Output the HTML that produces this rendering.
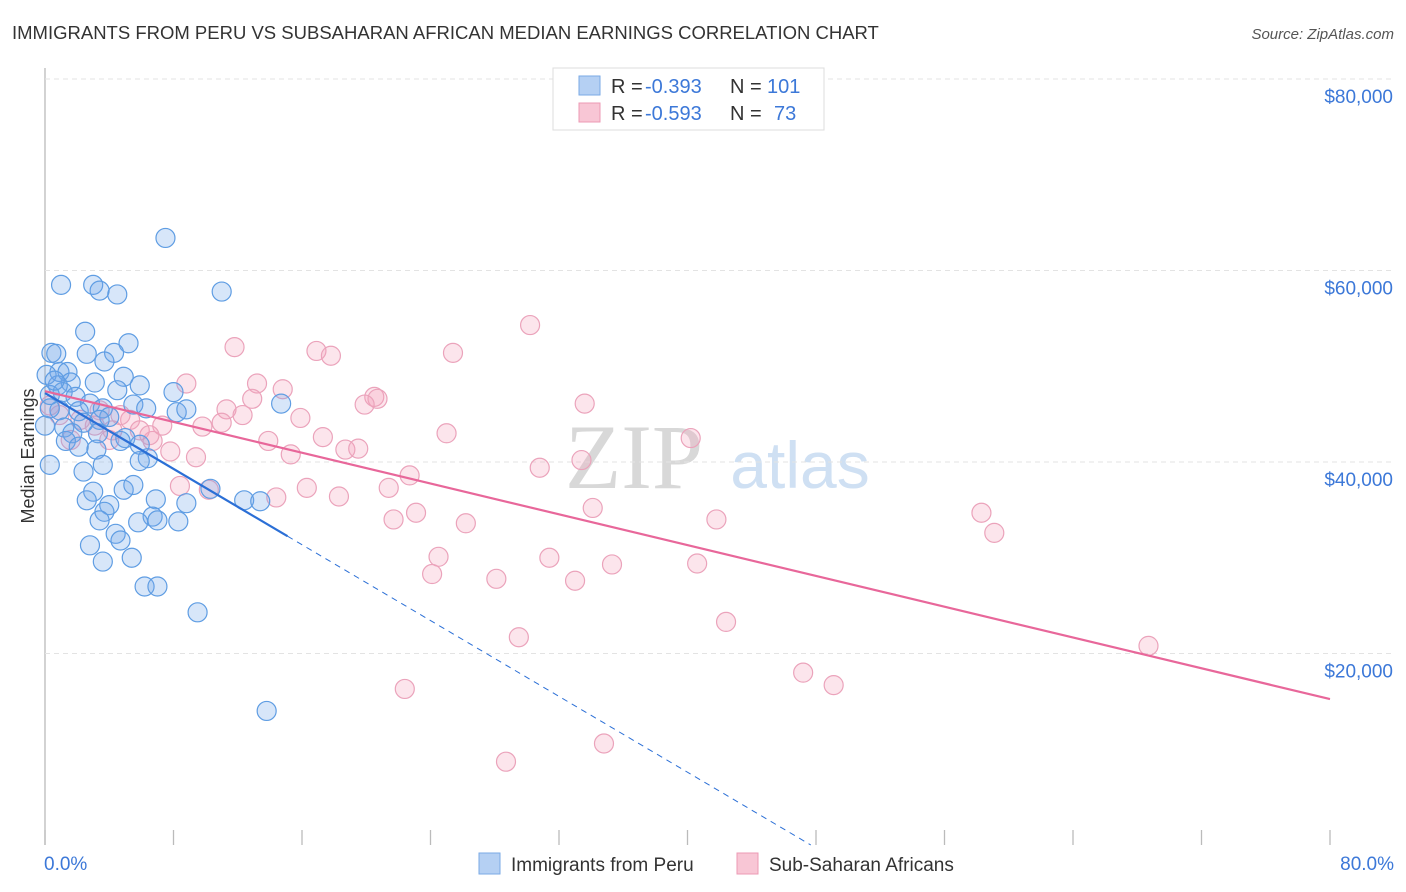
<!DOCTYPE html>
<html><head><meta charset="utf-8">
<style>
body{margin:0;background:#fff;font-family:"Liberation Sans",sans-serif;}
#c{position:relative;width:1406px;height:892px;overflow:hidden;}
</style></head>
<body>
<div id="c">
<svg id="s" width="1406" height="892" xmlns="http://www.w3.org/2000/svg">
<text x="12" y="39" font-size="18.5" fill="#333">IMMIGRANTS FROM PERU VS SUBSAHARAN AFRICAN MEDIAN EARNINGS CORRELATION CHART</text>
<text x="1394" y="39" font-size="15" fill="#555" font-style="italic" text-anchor="end">Source: ZipAtlas.com</text>
<text x="634" y="488" font-size="92" fill="#d8d8d8" text-anchor="middle" font-family="Liberation Serif,serif">ZIP</text>
<text x="800" y="488" font-size="66" fill="#cfe0f3" text-anchor="middle">atlas</text>
<text transform="translate(34,456) rotate(-90)" font-size="18" fill="#333" text-anchor="middle">Median Earnings</text>
<g id="grid"></g><g id="pts"></g><g id="lines"></g>
<g>
<rect x="553" y="68" width="271" height="62" fill="#fff" stroke="#ddd"/>
<rect x="579" y="76" width="21" height="19" fill="#b5d0f3" stroke="#7aaae6"/>
<rect x="579" y="103" width="21" height="19" fill="#f8c6d5" stroke="#ec9ab4"/>
<text x="611" y="93" font-size="20" fill="#333">R =</text>
<text x="645" y="93" font-size="20" fill="#3c78d8">-0.393</text>
<text x="730" y="93" font-size="20" fill="#333">N =</text>
<text x="767" y="93" font-size="20" fill="#3c78d8">101</text>
<text x="611" y="120" font-size="20" fill="#333">R =</text>
<text x="645" y="120" font-size="20" fill="#3c78d8">-0.593</text>
<text x="730" y="120" font-size="20" fill="#333">N =</text>
<text x="774" y="120" font-size="20" fill="#3c78d8">73</text>
</g>
<g>
<rect x="479" y="853" width="21" height="21" fill="#b5d0f3" stroke="#7aaae6"/>
<text x="511" y="871" font-size="19" fill="#333">Immigrants from Peru</text>
<rect x="737" y="853" width="21" height="21" fill="#f8c6d5" stroke="#ec9ab4"/>
<text x="769" y="871" font-size="19" fill="#333">Sub-Saharan Africans</text>
</g>
<text x="44" y="870" font-size="19" fill="#3c78d8">0.0%</text>
<text x="1394" y="870" font-size="19" fill="#3c78d8" text-anchor="end">80.0%</text>
</svg>
</div>
<script>
const yTicks=[20000,40000,60000,80000];
const yTickLabels=["$20,000","$40,000","$60,000","$80,000"];
const xTicks=[0,8,16,24,32,40,48,56,64,72,80];
const peruX=[1.0,3.0,3.4,4.5,7.5,11.0,2.5,5.2,0.4,0.7,2.6,4.3,3.7,0.9,1.4,3.1,4.9,5.9,4.5,1.6,0.8,8.0,1.1,1.9,5.5,6.3,8.2,8.8,14.7,2.8,3.6,2.1,0.9,0.3,4.0,3.4,2.4,1.2,1.7,3.3,5.0,5.9,1.3,2.1,3.2,4.7,6.4,5.9,3.6,2.4,3.0,4.9,5.5,2.6,4.0,3.7,6.9,6.7,7.0,8.3,8.8,12.4,13.4,10.3,3.4,5.8,4.4,4.7,2.8,3.6,5.4,6.2,7.0,9.5,13.8,0.3,0.0,0.3,0.1,0.6];
const peruY=[58.5,58.5,57.9,57.5,63.4,57.8,53.6,52.4,51.4,51.3,51.3,51.4,50.5,49.4,49.4,48.3,48.9,48.0,47.5,48.3,48.0,47.3,47.3,46.8,46.0,45.6,45.2,45.5,46.1,46.1,45.6,45.3,45.4,45.6,44.7,44.4,44.1,43.6,43.0,43.0,42.5,41.8,42.2,41.6,41.3,42.2,40.4,40.1,39.7,39.0,36.9,37.1,37.6,36.0,35.5,34.8,36.1,34.3,33.9,33.8,35.7,36.0,35.9,37.2,33.9,33.7,32.5,31.8,31.3,29.6,30.0,27.0,27.0,24.3,14.0,39.7,43.8,47.0,49.1,48.5];
const afrX=[30.2,11.8,16.9,17.8,25.4,8.8,13.2,14.8,20.5,20.7,19.9,33.6,12.9,11.3,12.3,9.8,11.0,15.9,7.3,25.0,17.3,13.9,6.7,18.7,19.5,15.3,9.4,7.8,30.8,33.4,22.7,40.2,10.2,8.4,14.4,16.3,18.3,21.4,23.1,21.7,26.2,34.1,41.8,58.3,59.1,24.5,24.1,31.4,28.1,33.0,35.3,40.6,42.4,29.5,22.4,47.2,49.1,34.8,28.7,68.7,5.3,4.2,3.1,2.2,0.9,0.3,5.9,6.5,1.6,3.4,4.7,4.0];
const afrY=[54.3,52.0,51.6,51.1,51.4,48.2,48.2,47.6,46.8,46.6,46.0,46.1,46.6,45.5,44.9,43.7,44.1,44.6,43.8,43.0,42.6,42.2,42.2,41.3,41.4,40.8,40.5,41.1,39.4,40.2,38.6,42.5,37.1,37.5,36.3,37.3,36.4,37.3,34.7,34.0,33.6,35.2,34.0,34.7,32.6,30.1,28.3,30.0,27.8,27.6,29.3,29.4,23.3,21.7,16.3,18.0,16.7,10.6,8.7,20.8,44.4,43.3,43.8,44.4,44.9,45.9,43.3,42.8,42.3,45.4,44.9,42.3];
const peruTrend=[47.2,-0.99,15.1];
const afrTrend=[47.4,-0.402,80];
const NS="http://www.w3.org/2000/svg";
function xs(v){return 45+v*(1285/80);}
function ys(v){return 845-v*(766/80000);}
function mk(t,a,p){const e=document.createElementNS(NS,t);for(const k in a)e.setAttribute(k,a[k]);p.appendChild(e);return e;}
const grid=document.getElementById('grid');
const ax=mk('line',{x1:45,y1:68,x2:45,y2:845,stroke:'#bbb','stroke-width':1.3},grid);


yTicks.forEach((t,i)=>{
 const g=mk('line',{x1:45,x2:1394,y1:ys(t),y2:ys(t),stroke:'#e3e3e3','stroke-dasharray':'5,4'},grid);
 
 
 const l=mk('text',{x:1393,y:ys(t)+24,'font-size':19,fill:'#3c78d8','text-anchor':'end'},grid);
 l.textContent=yTickLabels[i];
 
 
});
xTicks.forEach(t=>{
 const k=mk('line',{x1:xs(t),x2:xs(t),y1:830,y2:845,stroke:'#bbb','stroke-width':1.3},grid);
 
 
});
const pts=document.getElementById('pts');
afrX.forEach((v,i)=>{
 const c=mk('circle',{cx:xs(v),cy:ys(afrY[i]*1000),r:9.5,fill:'rgba(244,160,188,0.28)',stroke:'#eba3bb','stroke-width':1.2},pts);
 
 
});
peruX.forEach((v,i)=>{
 const c=mk('circle',{cx:xs(v),cy:ys(peruY[i]*1000),r:9.5,fill:'rgba(110,165,232,0.28)',stroke:'#5f9de3','stroke-width':1.2},pts);
 
 
});
const lines=document.getElementById('lines');
const pe=peruTrend, zero=-pe[0]/pe[1];
let l1=mk('line',{x1:xs(0),y1:ys(pe[0]*1000),x2:xs(pe[2]),y2:ys((pe[0]+pe[1]*pe[2])*1000),stroke:'#2b6fd6','stroke-width':2.2,fill:'none'},lines);


let l2=mk('line',{x1:xs(pe[2]),y1:ys((pe[0]+pe[1]*pe[2])*1000),x2:xs(zero),y2:ys(0),stroke:'#2b6fd6','stroke-width':1,'stroke-dasharray':'6,5'},lines);


const af=afrTrend;
let l3=mk('line',{x1:xs(0),y1:ys(af[0]*1000),x2:xs(af[2]),y2:ys((af[0]+af[1]*af[2])*1000),stroke:'#e8679a','stroke-width':2.2},lines);


</script>
</body></html>
